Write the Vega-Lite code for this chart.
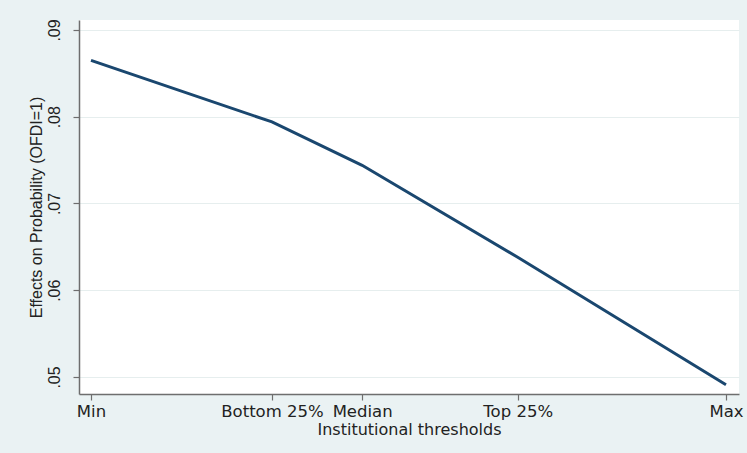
{
  "$schema": "https://vega.github.io/schema/vega-lite/v6.json",
  "width": 660,
  "height": 374,
  "autosize": {"type": "none"},
  "padding": {"left": 79, "top": 20, "right": 8, "bottom": 59},
  "background": "#eaf2f3",
  "config": {
    "view": {"fill": "white", "stroke": null},
    "font": "Liberation Sans"
  },
  "data": {
    "values": [
      {"pos": 0, "threshold": "Min", "effect": 0.0865},
      {"pos": 28.5, "threshold": "Bottom 25%", "effect": 0.0794},
      {"pos": 42.7, "threshold": "Median", "effect": 0.0744},
      {"pos": 67.2, "threshold": "Top 25%", "effect": 0.0638},
      {"pos": 100, "threshold": "Max", "effect": 0.0491}
    ]
  },
  "mark": {"type": "line", "color": "#1a476f", "strokeWidth": 3},
  "encoding": {
    "x": {
      "field": "pos",
      "type": "quantitative",
      "scale": {"domain": [-1.89, 102.05], "nice": false, "zero": false},
      "axis": {
        "title": "Institutional thresholds",
        "values": [0, 28.5, 42.7, 67.2, 100],
        "labelExpr": "datum.value == 0 ? 'Min' : datum.value == 28.5 ? 'Bottom 25%' : datum.value == 42.7 ? 'Median' : datum.value == 67.2 ? 'Top 25%' : 'Max'",
        "grid": false,
        "domainColor": "#6e6e6e",
        "domainWidth": 1.5,
        "tickColor": "#6e6e6e",
        "tickWidth": 1.2,
        "tickSize": 6,
        "labelFont": "DejaVu Sans",
        "labelFontSize": 16.5,
        "labelColor": "#222222",
        "labelPadding": 3,
        "labelFlush": false,
        "labelOverlap": false,
        "titleFont": "DejaVu Sans",
        "titleFontSize": 16,
        "titleFontWeight": "normal",
        "titleColor": "#222222",
        "titlePadding": 2
      }
    },
    "y": {
      "field": "effect",
      "type": "quantitative",
      "scale": {"domain": [0.04804, 0.09115], "nice": false, "zero": false},
      "axis": {
        "title": "Effects on Probability (OFDI=1)",
        "values": [0.05, 0.06, 0.07, 0.08, 0.09],
        "labelExpr": "substring(format(datum.value, '.2f'), 1)",
        "grid": true,
        "gridColor": "#e6eeee",
        "gridWidth": 1,
        "domainColor": "#6e6e6e",
        "domainWidth": 1.5,
        "tickColor": "#6e6e6e",
        "tickWidth": 1.2,
        "tickSize": 6,
        "labelAngle": -90,
        "labelAlign": "center",
        "labelBaseline": "bottom",
        "labelFontSize": 16,
        "labelColor": "#222222",
        "labelPadding": 11,
        "titleFontSize": 16,
        "titleFontWeight": "normal",
        "titleColor": "#222222",
        "titlePadding": 2
      }
    }
  }
}
